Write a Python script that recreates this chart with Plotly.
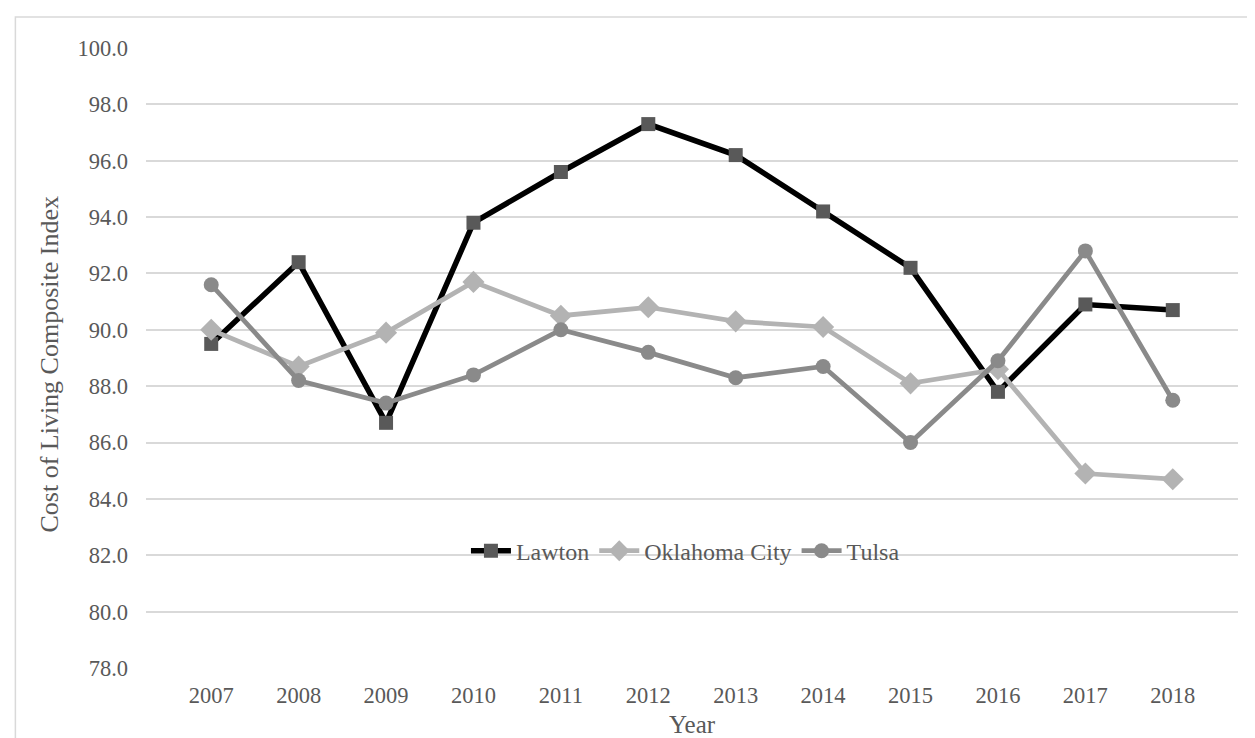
import plotly.graph_objects as go

years = ["2007", "2008", "2009", "2010", "2011", "2012", "2013", "2014", "2015", "2016", "2017", "2018"]
lawton = [89.5, 92.4, 86.7, 93.8, 95.6, 97.3, 96.2, 94.2, 92.2, 87.8, 90.9, 90.7]
okc = [90.0, 88.7, 89.9, 91.7, 90.5, 90.8, 90.3, 90.1, 88.1, 88.6, 84.9, 84.7]
tulsa = [91.6, 88.2, 87.4, 88.4, 90.0, 89.2, 88.3, 88.7, 86.0, 88.9, 92.8, 87.5]
y_ticks = [78, 80, 82, 84, 86, 88, 90, 92, 94, 96, 98, 100]

FONT = "Liberation Serif, Times New Roman, serif"
TXT = "#595959"

fig = go.Figure()
fig.add_trace(go.Scatter(x=years, y=lawton, name="Lawton", mode="lines+markers",
                         line=dict(color="#000000", width=5.5),
                         marker=dict(symbol="square", size=14, color="#595959")))
fig.add_trace(go.Scatter(x=years, y=okc, name="Oklahoma City", mode="lines+markers",
                         line=dict(color="#b3b3b3", width=4.75),
                         marker=dict(symbol="diamond", size=17, color="#b3b3b3")))
fig.add_trace(go.Scatter(x=years, y=tulsa, name="Tulsa", mode="lines+markers",
                         line=dict(color="#8a8a8a", width=4.75),
                         marker=dict(symbol="circle", size=15, color="#8a8a8a")))

fig.update_layout(
    width=1255, height=738,
    margin=dict(l=138, r=25, t=40, b=78),
    paper_bgcolor="white", plot_bgcolor="white",
    font=dict(family=FONT, color=TXT, size=22),
    showlegend=True,
    legend=dict(orientation="h", x=0.494, y=0.1885, xanchor="center", yanchor="middle",
                bgcolor="rgba(0,0,0,0)", font=dict(family=FONT, size=24, color=TXT),
                itemwidth=40, tracegroupgap=0),
    xaxis=dict(type="category", showgrid=False, showline=False, zeroline=False,
               ticks="", ticklabelstandoff=11,
               tickfont=dict(family=FONT, size=22.5, color=TXT),
               fixedrange=True),
    yaxis=dict(range=[78, 100], tickvals=y_ticks, ticktext=[f"{v:.1f}" for v in y_ticks],
               showgrid=True, gridcolor="#d9d9d9", gridwidth=1.5, zeroline=False,
               showline=False, ticks="", ticklabelstandoff=17,
               tickfont=dict(family=FONT, size=22.5, color=TXT)),
    annotations=[
        dict(text="Year", xref="paper", yref="paper", x=0.5, y=-0.1145,
             xanchor="center", yanchor="bottom", showarrow=False, borderpad=0,
             font=dict(family=FONT, size=25, color=TXT)),
        dict(text="Cost of Living Composite Index", xref="paper", yref="paper",
             x=-0.0885, y=0.49, xanchor="center", yanchor="middle", textangle=-90,
             showarrow=False, font=dict(family=FONT, size=26, color=TXT)),
    ],
    shapes=[dict(type="rect", xref="paper", yref="paper",
                 x0=-0.1196, x1=1.2, y0=-0.3, y1=1.0500,
                 line=dict(color="#d9d9d9", width=1.5), fillcolor="rgba(0,0,0,0)", layer="below")],
)

fig.write_html("out.html")
